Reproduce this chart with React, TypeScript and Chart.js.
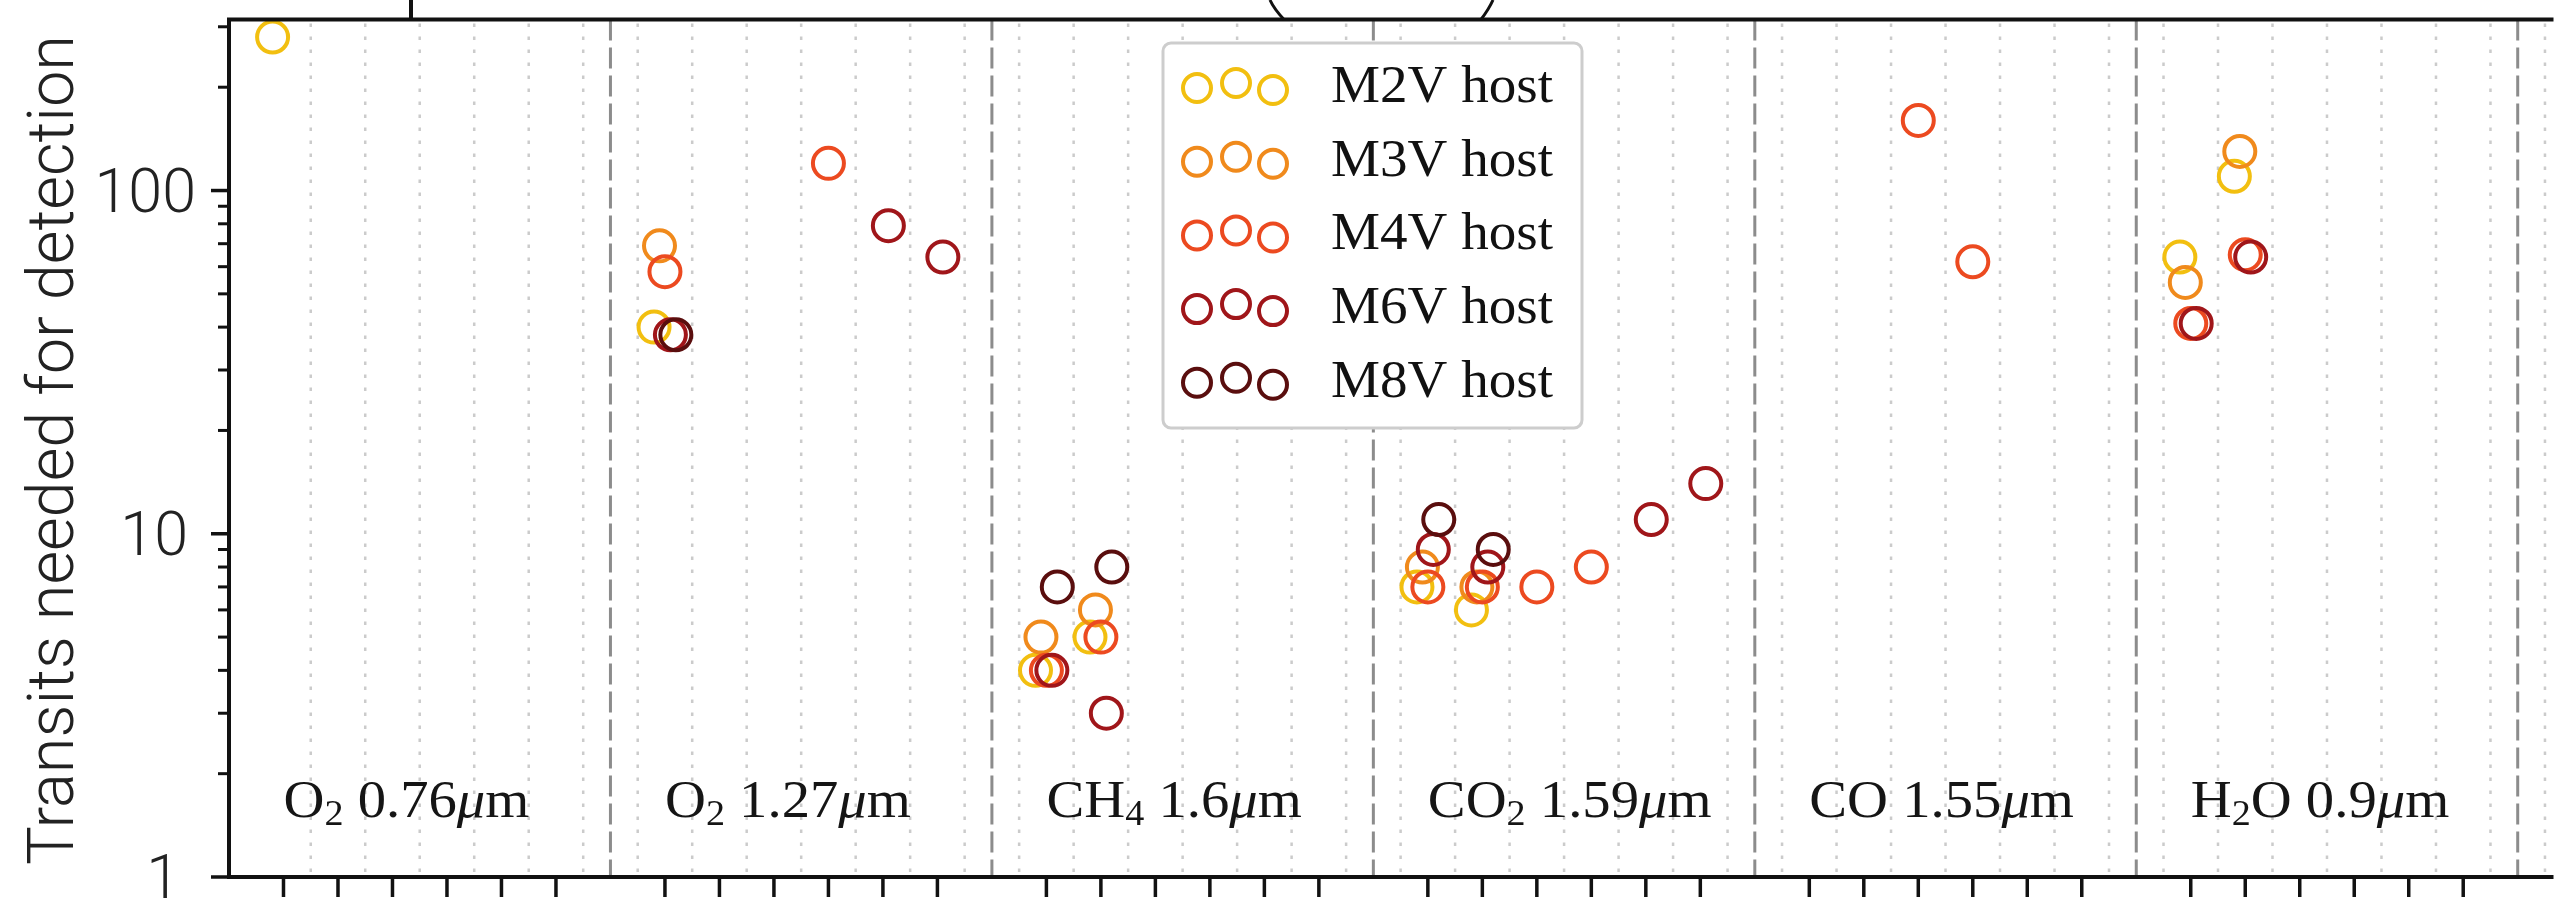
import { useEffect, useRef } from 'react';
import { Chart, registerables } from 'chart.js';

Chart.register(...registerables);

// Host star types (legend order) and their marker colours
const STAR_TYPES = ['M2V host', 'M3V host', 'M4V host', 'M6V host', 'M8V host'];
const STAR_COLORS = ['#F2BF10', '#F08A1C', '#EC4A20', '#A0161A', '#5A0E0E'];

// Transits needed for detection, per host star type (x = planet slot on the band axis)
const M2V_X = [0.8, 7.8, 14.8, 15.8, 21.8, 22.8, 35.8, 36.8];
const M2V_Y = [280, 40, 4, 5, 7, 6, 64, 110];
const M3V_X = [7.9, 14.9, 15.9, 21.9, 22.9, 35.9, 36.9];
const M3V_Y = [69, 5, 6, 8, 7, 54, 130];
const M4V_X = [8.0, 11.0, 15.0, 16.0, 22.0, 23.0, 24.0, 25.0, 31.0, 32.0, 36.0, 37.0];
const M4V_Y = [58, 120, 4, 5, 7, 7, 7, 8, 160, 62, 41, 65];
const M6V_X = [8.1, 12.1, 13.1, 15.1, 16.1, 22.1, 23.1, 26.1, 27.1, 36.1, 37.1];
const M6V_Y = [38, 79, 64, 4, 3, 9, 8, 11, 14, 41, 64];
const M8V_X = [8.2, 15.2, 16.2, 22.2, 23.2];
const M8V_Y = [38, 7, 8, 11, 9];

const SERIES_X = [M2V_X, M3V_X, M4V_X, M6V_X, M8V_X];
const SERIES_Y = [M2V_Y, M3V_Y, M4V_Y, M6V_Y, M8V_Y];

// Spectral bands: each spans 7 slots on the x axis
const BAND_START = [0, 7, 14, 21, 28, 35];
const BAND_WIDTH = 7;
const BAND_LABEL_Y = 1.5;
type Seg = [string, 'n' | 'sub' | 'it'];
const BAND_LABELS: Seg[][] = [
  [['O', 'n'], ['2', 'sub'], [' 0.76', 'n'], ['μ', 'it'], ['m', 'n']],
  [['O', 'n'], ['2', 'sub'], [' 1.27', 'n'], ['μ', 'it'], ['m', 'n']],
  [['CH', 'n'], ['4', 'sub'], [' 1.6', 'n'], ['μ', 'it'], ['m', 'n']],
  [['CO', 'n'], ['2', 'sub'], [' 1.59', 'n'], ['μ', 'it'], ['m', 'n']],
  [['CO 1.55', 'n'], ['μ', 'it'], ['m', 'n']],
  [['H', 'n'], ['2', 'sub'], ['O 0.9', 'n'], ['μ', 'it'], ['m', 'n']],
];

// Y axis (log) ticks
const Y_MIN = 1;
const Y_MAX = 315;
const Y_MAJOR = [1, 10, 100];
const Y_MAJOR_LABELS = ['1', '10', '100'];
const Y_MINOR = [2, 3, 4, 5, 6, 7, 8, 9, 20, 30, 40, 50, 60, 70, 80, 90, 200, 300];
const X_MAX = 42.62;
const Y_TITLE = 'Transits needed for detection';

const SERIF = '"Liberation Serif", "Times New Roman", serif';
const SANS = 'Roboto, "Liberation Sans", Helvetica, Arial, sans-serif';

function drawRich(ctx: CanvasRenderingContext2D, segs: Seg[], x: number, y: number, size: number, sx: number) {
  ctx.save();
  ctx.translate(x, y);
  ctx.scale(sx, 1);
  ctx.textAlign = 'left';
  ctx.textBaseline = 'alphabetic';
  let cx = 0;
  for (const [t, kind] of segs) {
    let dy = 0;
    if (kind === 'it') ctx.font = `italic ${size}px ${SERIF}`;
    else if (kind === 'sub') {
      ctx.font = `${Math.round(size * 0.68)}px ${SERIF}`;
      dy = size * 0.16;
    } else ctx.font = `${size}px ${SERIF}`;
    ctx.fillText(t, cx, dy);
    cx += ctx.measureText(t).width;
  }
  ctx.restore();
}

const decorations = {
  id: 'decorations',
  beforeDraw(chart: any) {
    const ctx = chart.ctx;
    ctx.save();
    ctx.fillStyle = '#ffffff';
    ctx.fillRect(0, 0, chart.width, chart.height);
    ctx.restore();
  },
  beforeDatasetsDraw(chart: any) {
    const ctx: CanvasRenderingContext2D = chart.ctx;
    const { top, bottom } = chart.chartArea;
    const xs = chart.scales.x;
    ctx.save();
    // light dotted lines between planet slots
    ctx.strokeStyle = 'rgba(185,185,185,0.75)';
    ctx.lineWidth = 2.5;
    ctx.setLineDash([3.5, 9.5]);
    for (let i = 1; i < BAND_START.length * BAND_WIDTH + 1; i++) {
      const v = i + 0.5;
      if (v > X_MAX) break;
      const px = xs.getPixelForValue(v);
      ctx.beginPath();
      ctx.moveTo(px, top + 4);
      ctx.lineTo(px, bottom);
      ctx.stroke();
    }
    // dashed band separators
    ctx.strokeStyle = '#8c8c8c';
    ctx.lineWidth = 3;
    ctx.setLineDash([21, 7]);
    for (const s of BAND_START) {
      const px = xs.getPixelForValue(s + BAND_WIDTH);
      ctx.beginPath();
      ctx.moveTo(px, top);
      ctx.lineTo(px, bottom);
      ctx.stroke();
    }
    ctx.restore();
  },
  afterDatasetsDraw(chart: any) {
    const ctx: CanvasRenderingContext2D = chart.ctx;
    const { left, right, top, bottom } = chart.chartArea;
    const xs = chart.scales.x;
    const ys = chart.scales.y;
    ctx.save();
    ctx.setLineDash([]);
    ctx.strokeStyle = '#111';
    ctx.fillStyle = '#111';

    // spines
    ctx.lineWidth = 4;
    ctx.beginPath();
    ctx.moveTo(right + 2, top);
    ctx.lineTo(left, top);
    ctx.lineTo(left, bottom);
    ctx.lineTo(right + 2, bottom);
    ctx.stroke();

    // x ticks (one per planet slot)
    ctx.lineWidth = 3.5;
    for (const s of BAND_START) {
      for (let k = 1; k < BAND_WIDTH; k++) {
        const px = xs.getPixelForValue(s + k);
        ctx.beginPath();
        ctx.moveTo(px, bottom);
        ctx.lineTo(px, bottom + 20);
        ctx.stroke();
      }
    }
    // y ticks
    for (const v of Y_MAJOR) {
      const py = ys.getPixelForValue(v);
      ctx.beginPath();
      ctx.moveTo(left - 18, py);
      ctx.lineTo(left, py);
      ctx.stroke();
    }
    ctx.lineWidth = 3;
    for (const v of Y_MINOR) {
      const py = ys.getPixelForValue(v);
      ctx.beginPath();
      ctx.moveTo(left - 11, py);
      ctx.lineTo(left, py);
      ctx.stroke();
    }

    // y tick labels
    ctx.fillStyle = '#222';
    ctx.font = `300 61px ${SANS}`;
    ctx.textAlign = 'right';
    ctx.textBaseline = 'alphabetic';
    const labelRight = [180, 188, 196];
    Y_MAJOR.forEach((v, i) => {
      ctx.fillText(Y_MAJOR_LABELS[i], labelRight[i], ys.getPixelForValue(v) + 21);
    });

    // y axis title
    ctx.save();
    ctx.translate(73, 450);
    ctx.rotate(-Math.PI / 2);
    ctx.font = `300 64px ${SANS}`;
    const tw = ctx.measureText(Y_TITLE).width;
    ctx.scale(830 / tw, 1);
    ctx.textAlign = 'center';
    ctx.fillText(Y_TITLE, 0, 0);
    ctx.restore();

    // band labels
    ctx.fillStyle = '#151515';
    BAND_LABELS.forEach((segs, i) => {
      drawRich(ctx, segs, xs.getPixelForValue(BAND_START[i] + 1), ys.getPixelForValue(BAND_LABEL_Y), 52, 1.09);
    });

    // legend
    const lx = 1163, ly = 43, lw = 419, lh = 385;
    ctx.beginPath();
    ctx.roundRect(lx, ly, lw, lh, 8);
    ctx.fillStyle = '#ffffff';
    ctx.fill();
    ctx.strokeStyle = '#cdcdcd';
    ctx.lineWidth = 3;
    ctx.stroke();
    const markerX = [1197, 1236, 1273];
    const markerDY = [-14, -19, -12];
    STAR_TYPES.forEach((name, i) => {
      const base = 102 + i * 73.7;
      ctx.strokeStyle = STAR_COLORS[i];
      ctx.lineWidth = 4;
      markerX.forEach((mx, j) => {
        ctx.beginPath();
        ctx.arc(mx, base + markerDY[j], 14, 0, Math.PI * 2);
        ctx.stroke();
      });
      ctx.fillStyle = '#111';
      drawRich(ctx, [[name, 'n']], 1331, base, 52, 1.06);
    });

    // cut-off strokes of the heading above the frame
    ctx.strokeStyle = '#111';
    ctx.lineWidth = 4;
    ctx.beginPath();
    ctx.moveTo(411, 0);
    ctx.lineTo(411, top - 1);
    ctx.stroke();
    ctx.lineWidth = 3;
    ctx.beginPath();
    ctx.moveTo(1270, 0);
    ctx.quadraticCurveTo(1274, 9, 1284, top);
    ctx.stroke();
    ctx.beginPath();
    ctx.moveTo(1493, 0);
    ctx.quadraticCurveTo(1489, 9, 1481, top);
    ctx.stroke();

    ctx.restore();
  },
};

export default function App() {
  const ref = useRef<HTMLCanvasElement>(null);
  useEffect(() => {
    if (!ref.current) return;
    const datasets = STAR_TYPES.map((name, i) => ({
      label: name,
      data: SERIES_X[i].map((x, k) => ({ x, y: SERIES_Y[i][k] })),
      borderColor: STAR_COLORS[i],
      backgroundColor: 'rgba(0,0,0,0)',
      pointStyle: 'circle',
      pointRadius: 15.5,
      pointBorderWidth: 4,
      showLine: false,
      clip: false,
      order: STAR_TYPES.length - i,
    }));
    const chart = new Chart(ref.current, {
      type: 'scatter',
      data: { datasets },
      options: {
        animation: false,
        responsive: false,
        devicePixelRatio: 1,
        events: [],
        layout: { padding: { left: 229, top: 14, right: 0, bottom: 31 } },
        plugins: { legend: { display: false }, tooltip: { enabled: false } },
        scales: {
          x: { type: 'linear', min: 0, max: X_MAX, display: false },
          y: { type: 'logarithmic', min: Y_MIN, max: Y_MAX, display: false },
        },
      },
      plugins: [decorations],
    } as any);
    return () => chart.destroy();
  }, []);
  return (
    <div style={{ position: 'fixed', left: 0, top: 0, width: 2571, height: 908, background: '#fff', overflow: 'hidden' }}>
      <canvas ref={ref} width={2571} height={908} style={{ display: 'block', width: 2571, height: 908 }} />
    </div>
  );
}
